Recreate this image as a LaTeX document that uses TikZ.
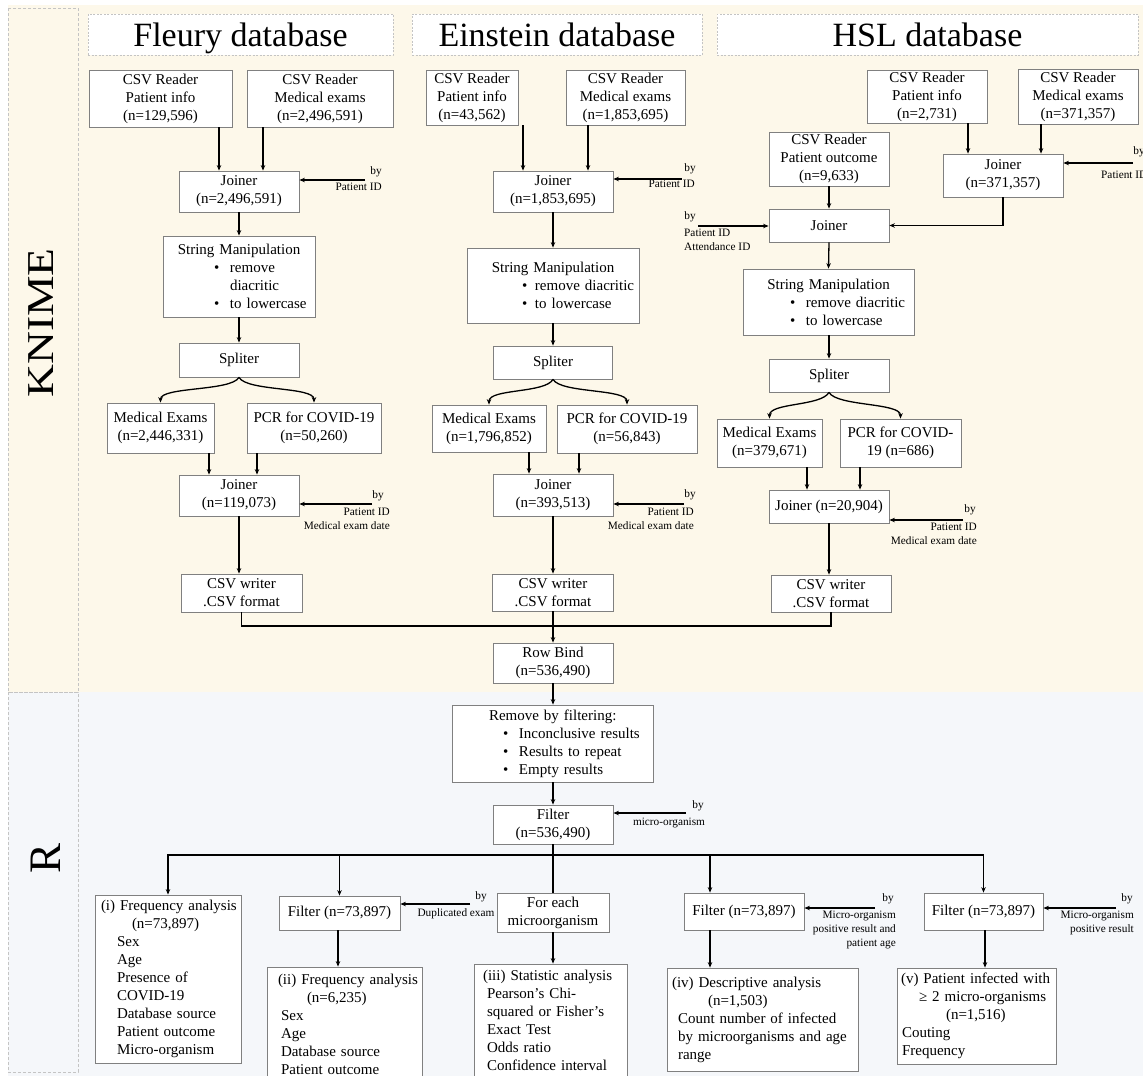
\documentclass[tikz,border=0pt]{standalone}
\usepackage{fontspec}
\setmainfont{Liberation Serif}
\usepackage{graphicx}
\usetikzlibrary{arrows.meta}
\definecolor{cream}{HTML}{FDF8EA}
\definecolor{rband}{HTML}{F5F7FA}
\definecolor{bgray}{HTML}{808080}
\definecolor{dgray}{HTML}{C4C4C4}
\newcommand{\mainfs}{\fontsize{15}{18}\selectfont}
\newcommand{\lblfs}{\fontsize{11.3}{14}\selectfont}
\newcommand{\bul}[1]{\makebox[#1][l]{•}}
\begin{document}
\begin{tikzpicture}[x=1pt,y=-1pt,
  box/.style={draw=bgray, fill=white, line width=0.8pt, inner sep=0pt, font=\mainfs, align=center},
  lbox/.style={box, align=left},
  hdr/.style={draw=dgray, fill=white, dash pattern=on 2pt off 1.5pt, line width=0.8pt, inner sep=0pt, font=\fontsize{34}{34}\selectfont, text height=27pt, text depth=4pt},
  arr/.style={line width=1.3pt, -{Stealth[length=5.5pt,width=4.5pt]}},
  ln/.style={line width=1.3pt},
  lbl/.style={font=\lblfs, inner sep=0pt},
  col/.style={draw=dgray, dash pattern=on 3pt off 2pt, line width=0.8pt}]
\useasboundingbox (0,0) rectangle (1143,1076);
% backgrounds
\fill[cream] (8,5) rectangle (1143,692);
\fill[rband] (8,692) rectangle (1143,1076);
\draw[col] (8,8) rectangle (78,692);
\draw[col] (8,692) rectangle (78,1072);
\node[rotate=90, inner sep=0pt, font=\fontsize{38}{38}\selectfont] (knime) at (41,323) {\scalebox{1.2}[1]{KNIME}};
\node[rotate=90, inner sep=0pt, font=\fontsize{45}{45}\selectfont] (rlab) at (46,858) {R};
% headers
\node[hdr, minimum width=305pt, minimum height=41pt] (hF) at (240.5,34.5) {Fleury database};
\node[hdr, minimum width=290pt, minimum height=41pt] (hE) at (557,34.5) {Einstein database};
\node[hdr, minimum width=421pt, minimum height=41pt] (hH) at (927.5,34.5) {HSL database};
% ---------------- Fleury
\node[box, minimum width=143pt, minimum height=57pt] (F1) at (160.5,98.5) {CSV Reader\\Patient info\\(n=129,596)};
\node[box, minimum width=146pt, minimum height=57pt] (F2) at (320,98.5) {CSV Reader\\Medical exams\\(n=2,496,591)};
\node[box, minimum width=120pt, minimum height=41pt] (FJ) at (239,191.5) {Joiner\\(n=2,496,591)};
\node[lbox, text width=152pt, minimum height=81pt] (FS) at (239,276.5) {\makebox[152pt][c]{String Manipulation}\\ \hspace*{51pt}\bul{16pt}remove\\ \hspace*{67pt}diacritic\\ \hspace*{51pt}\bul{16pt}to lowercase};
\node[box, minimum width=120pt, minimum height=34pt] (FSp) at (239,360) {Spliter};
\node[box, minimum width=107pt, minimum height=50pt] (FM) at (160.5,428) {Medical Exams\\(n=2,446,331)};
\node[box, minimum width=134pt, minimum height=50pt] (FP) at (314,428) {PCR for COVID-19\\(n=50,260)};
\node[box, minimum width=120pt, minimum height=41pt] (FJ2) at (239,495.5) {Joiner\\(n=119,073)};
\node[box, minimum width=121pt, minimum height=38pt] (FW) at (241.5,593) {CSV writer\\.CSV format};
\draw[arr] (F1.south -| 219,0) -- (FJ.north -| 219,0);
\draw[arr] (F2.south -| 263,0) -- (FJ.north -| 263,0);
\draw[arr] (FJ.south) -- (FS.north);
\draw[arr] (FS.south) -- (FSp.north);
\draw[arr] (FSp.south) .. controls +(-8,14) and +(0,-16) .. (FM.north);
\draw[arr] (FSp.south) .. controls +(8,14) and +(0,-16) .. (FP.north);
\draw[arr] (FM.south -| 209,0) -- (FJ2.north -| 209,0);
\draw[arr] (FP.south -| 257,0) -- (FJ2.north -| 257,0);
\draw[arr] (FJ2.south) -- (FJ2.south |- FW.north);
\coordinate (cF1) at (365,180);
\draw[arr] (cF1) -- (FJ.east |- cF1);
\node[lbl] (byF1) at (376,172) {by};
\node[lbl, anchor=north east, align=right] (lF1) at (382,183) {Patient ID};
\coordinate (cF2) at (372,504);
\draw[arr] (cF2) -- (FJ2.east |- cF2);
\node[lbl] (byF2) at (378,496) {by};
\node[lbl, anchor=north east, align=right] (lF2) at (390,508) {Patient ID\\Medical exam date};
% ---------------- Einstein
\node[box, minimum width=92pt, minimum height=55pt] (E1) at (472,97.5) {CSV Reader\\Patient info\\(n=43,562)};
\node[box, minimum width=119pt, minimum height=55pt] (E2) at (625.5,97.5) {CSV Reader\\Medical exams\\(n=1,853,695)};
\node[box, minimum width=120pt, minimum height=41pt] (EJ) at (553,191.5) {Joiner\\(n=1,853,695)};
\node[lbox, text width=172pt, minimum height=75pt] (ES) at (553,285.5) {\makebox[172pt][c]{String Manipulation}\\ \hspace*{55pt}\bul{13pt}remove diacritic\\ \hspace*{55pt}\bul{13pt}to lowercase};
\node[box, minimum width=119pt, minimum height=33pt] (ESp) at (553,362.5) {Spliter};
\node[box, minimum width=114pt, minimum height=47pt] (EM) at (489,428.5) {Medical Exams\\(n=1,796,852)};
\node[box, minimum width=140pt, minimum height=48pt] (EP) at (627,429) {PCR for COVID-19\\(n=56,843)};
\node[box, minimum width=120pt, minimum height=42pt] (EJ2) at (553,495) {Joiner\\(n=393,513)};
\node[box, minimum width=121pt, minimum height=37pt] (EW) at (553,592.5) {CSV writer\\.CSV format};
\draw[arr] (E1.south -| 523,0) -- (EJ.north -| 523,0);
\draw[arr] (E2.south -| 588,0) -- (EJ.north -| 588,0);
\draw[arr] (EJ.south) -- (ES.north);
\draw[arr] (ES.south) -- (ESp.north);
\draw[arr] (ESp.south) .. controls +(-8,14) and +(0,-16) .. (EM.north);
\draw[arr] (ESp.south) .. controls +(8,14) and +(0,-16) .. (EP.north);
\draw[arr] (EM.south -| 529,0) -- (EJ2.north -| 529,0);
\draw[arr] (EP.south -| 579,0) -- (EJ2.north -| 579,0);
\draw[arr] (EJ2.south) -- (EW.north);
\coordinate (cE1) at (682,179);
\draw[arr] (cE1) -- (EJ.east |- cE1);
\node[lbl] (byE1) at (690,169) {by};
\node[lbl, anchor=north east, align=right] (lE1) at (695,180) {Patient ID};
\coordinate (cE2) at (684,504);
\draw[arr] (cE2) -- (EJ2.east |- cE2);
\node[lbl] (byE2) at (690,495) {by};
\node[lbl, anchor=north east, align=right] (lE2) at (694,508) {Patient ID\\Medical exam date};
% ---------------- HSL
\node[box, minimum width=120pt, minimum height=53pt] (H1) at (927,96.5) {CSV Reader\\Patient info\\(n=2,731)};
\node[box, minimum width=120pt, minimum height=55pt] (H2) at (1078,96.5) {CSV Reader\\Medical exams\\(n=371,357)};
\node[box, minimum width=120pt, minimum height=54pt] (HO) at (829,159) {CSV Reader\\Patient outcome\\(n=9,633)};
\node[box, minimum width=120pt, minimum height=43pt] (HJ1) at (1003,175.5) {Joiner\\(n=371,357)};
\node[box, minimum width=120pt, minimum height=33pt] (HJ) at (829,225.5) {Joiner};
\node[lbox, text width=171pt, minimum height=66pt] (HS) at (828.5,302) {\makebox[171pt][c]{String Manipulation}\\ \hspace*{47pt}\bul{16pt}remove diacritic\\ \hspace*{47pt}\bul{16pt}to lowercase};
\node[box, minimum width=120pt, minimum height=33pt] (HSp) at (829,375.5) {Spliter};
\node[box, minimum width=105pt, minimum height=48pt] (HM) at (769.5,443) {Medical Exams\\(n=379,671)};
\node[box, minimum width=121pt, minimum height=48pt] (HP) at (900.5,443) {PCR for COVID-\\19 (n=686)};
\node[box, minimum width=120pt, minimum height=33pt] (HJ2) at (829,506.5) {Joiner (n=20,904)};
\node[box, minimum width=120pt, minimum height=37pt] (HW) at (831,593.5) {CSV writer\\.CSV format};
\draw[arr] (H1.south -| 968,0) -- (HJ1.north -| 968,0);
\draw[arr] (H2.south -| 1041,0) -- (HJ1.north -| 1041,0);
\draw[arr] (HO.south) -- (HJ.north);
\draw[arr] (HJ1.south) |- (HJ.east);
\draw[arr] (HJ.south) -- (HS.south |- HS.north);
\draw[arr] (HS.south -| HSp.south) -- (HSp.north);
\draw[arr] (HSp.south) .. controls +(-8,14) and +(0,-16) .. (HM.north);
\draw[arr] (HSp.south) .. controls +(8,14) and +(0,-16) .. (HP.north);
\draw[arr] (HM.south -| 807,0) -- (HJ2.north -| 807,0);
\draw[arr] (HP.south -| 860,0) -- (HJ2.north -| 860,0);
\draw[arr] (HJ2.south) -- (HJ2.south |- HW.north);
\coordinate (cH1) at (1133,163);
\draw[arr] (cH1) -- (HJ1.east |- cH1);
\node[lbl] (byH1) at (1139,152) {by};
\node[lbl, anchor=north west, align=left] (lH1) at (1101,171) {Patient ID};
\coordinate (cH0) at (698,226);
\draw[arr] (cH0) -- (HJ.west |- cH0);
\node[lbl] (byH0) at (690,217) {by};
\node[lbl, anchor=north west, align=left] (lH0) at (684,229) {Patient ID\\Attendance ID};
\coordinate (cH2) at (963,520);
\draw[arr] (cH2) -- (HJ2.east |- cH2);
\node[lbl] (byH2) at (970,510) {by};
\node[lbl, anchor=north east, align=right] (lH2) at (977,523) {Patient ID\\Medical exam date};
% ---------------- merge
\node[box, minimum width=120pt, minimum height=40pt] (RB) at (553,663) {Row Bind\\(n=536,490)};
\coordinate (merge) at (553,626);
\draw[ln] (FW.south) |- (merge);
\draw[ln] (HW.south) |- (merge);
\draw[arr] (EW.south) -- (RB.north);
% ---------------- R part
\node[lbox, text width=201pt, minimum height=77pt] (RM) at (552.5,743.5) {\hspace*{37pt}Remove by filtering:\\ \hspace*{51pt}\bul{16pt}Inconclusive results\\ \hspace*{51pt}\bul{16pt}Results to repeat\\ \hspace*{51pt}\bul{16pt}Empty results};
\node[box, minimum width=120pt, minimum height=39pt] (F0) at (553,824.5) {Filter\\(n=536,490)};
\draw[arr] (RB.south) -- (RB.south |- RM.north);
\draw[arr] (RM.south -| F0.north) -- (F0.north);
\coordinate (c0) at (686,813);
\draw[arr] (c0) -- (F0.east |- c0);
\node[lbl] (by0) at (698,806) {by};
\node[lbl] (l0) at (669,823) {micro-organism};
% bottom row
\node[lbox, text width=146pt, minimum height=168pt] (Bi) at (168,979) {\hspace*{6pt}(i) Frequency analysis\\ \hspace*{37pt}(n=73,897)\\ \hspace*{22pt}Sex\\ \hspace*{22pt}Age\\ \hspace*{22pt}Presence of\\ \hspace*{22pt}COVID-19\\ \hspace*{22pt}Database source\\ \hspace*{22pt}Patient outcome\\ \hspace*{22pt}Micro-organism};
\node[box, minimum width=121pt, minimum height=34pt] (Bf2) at (339.5,913) {Filter (n=73,897)};
\node[lbox, text width=155pt, minimum height=114pt] (Bii) at (344.5,1024) {\hspace*{11pt}(ii) Frequency analysis\\ \hspace*{40pt}(n=6,235)\\ \hspace*{14pt}Sex\\ \hspace*{14pt}Age\\ \hspace*{14pt}Database source\\ \hspace*{14pt}Patient outcome};
\node[box, minimum width=112pt, minimum height=39pt] (Bfe) at (553,912.5) {For each\\microorganism};
\node[lbox, text width=153pt, minimum height=112pt] (Biii) at (550.5,1020) {\hspace*{9pt}(iii) Statistic analysis\\ \hspace*{13pt}Pearson's Chi-\\ \hspace*{13pt}squared or Fisher's\\ \hspace*{13pt}Exact Test\\ \hspace*{13pt}Odds ratio\\ \hspace*{13pt}Confidence interval};
\node[box, minimum width=120pt, minimum height=37pt] (Bf4) at (744,911.5) {Filter (n=73,897)};
\node[lbox, text width=191pt, minimum height=103pt] (Biv) at (762.5,1019.5) {\hspace*{5pt}(iv) Descriptive analysis\\ \hspace*{41pt}(n=1,503)\\ \hspace*{11pt}Count number of infected\\ \hspace*{11pt}by microorganisms and age\\ \hspace*{11pt}range};
\node[box, minimum width=119pt, minimum height=37pt] (Bf5) at (983.5,911.5) {Filter (n=73,897)};
\node[lbox, text width=159pt, minimum height=96pt] (Bv) at (976.5,1016) {\hspace*{4pt}(v) Patient infected with\\ \hspace*{22pt}≥ 2 micro-organisms\\ \hspace*{49pt}(n=1,516)\\ \hspace*{5pt}Couting\\ \hspace*{5pt}Frequency};
\coordinate (hub) at (553,855);
\draw[ln] (F0.south) -- (Bfe.north);
\draw[arr] (hub) -| (Bi.north);
\draw[arr] (hub) -| (Bf2.north);
\draw[arr] (hub) -| (Bf4.north -| 710,0);
\draw[arr] (hub) -| (Bf5.north);
\draw[arr] (Bf2.south -| 338,0) -- (Bii.north -| 338,0);
\draw[arr] (Bfe.south) -- (Bfe.south |- Biii.north);
\draw[arr] (Bf4.south -| 710,0) -- (Biv.north -| 710,0);
\draw[arr] (Bf5.south -| 985,0) -- (Bv.north -| 985,0);
\coordinate (cdup) at (470,904);
\draw[arr] (cdup) -- (Bf2.east |- cdup);
\node[lbl] (bydup) at (481,897) {by};
\node[lbl] (ldup) at (456,914) {Duplicated exam};
\coordinate (c4) at (875,908);
\draw[arr] (c4) -- (Bf4.east |- c4);
\node[lbl] (by4) at (888,899) {by};
\node[lbl, anchor=north east, align=right] (l4) at (896,911) {Micro-organism\\positive result and\\patient age};
\coordinate (c5) at (1116,908);
\draw[arr] (c5) -- (Bf5.east |- c5);
\node[lbl] (by5) at (1127,899) {by};
\node[lbl, anchor=north east, align=right] (l5) at (1134,911) {Micro-organism\\positive result};
\end{tikzpicture}
\end{document}
